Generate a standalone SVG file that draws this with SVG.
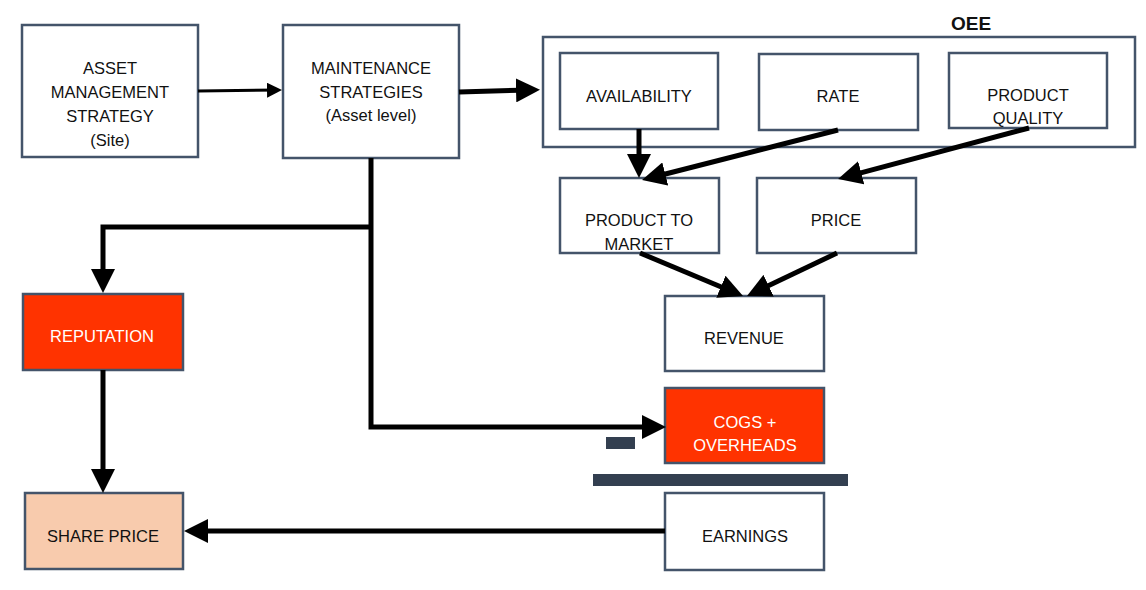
<svg xmlns="http://www.w3.org/2000/svg" width="1146" height="590" viewBox="0 0 1146 590">
<defs>
<style>
.box{fill:#FFFFFF;stroke:#44546A;stroke-width:2.5}
.red{fill:#FF3300;stroke:#44546A;stroke-width:2.5}
.peach{fill:#F8CBAD;stroke:#44546A;stroke-width:2.5}
.t{font-family:"Liberation Sans",Arial,sans-serif;font-size:16.5px;fill:#111111;text-anchor:middle}
.w{fill:#FFFFFF}
.b{font-weight:bold;font-size:19px}
.c{fill:none;stroke:#000000;stroke-width:5;stroke-linejoin:miter}
.thin{stroke-width:3}
.bar{fill:#333F50}
</style>
<marker id="ah" markerUnits="userSpaceOnUse" markerWidth="24" markerHeight="24" viewBox="0 0 24 24" refX="14" refY="12" orient="auto">
<path d="M0,0 L24,12 L0,24 z" fill="#000000"/>
</marker>
<marker id="ahs" markerUnits="userSpaceOnUse" markerWidth="15" markerHeight="15" viewBox="0 0 15 15" refX="11" refY="7.5" orient="auto">
<path d="M0,0 L15,7.5 L0,15 z" fill="#000000"/>
</marker>
</defs>
<rect width="1146" height="590" fill="#FFFFFF"/>

<g id="asset-management">
<rect class="box" x="22" y="25" width="176" height="132"/>
<text class="t" x="110" y="74">ASSET</text>
<text class="t" x="110" y="98">MANAGEMENT</text>
<text class="t" x="110" y="122">STRATEGY</text>
<text class="t" x="110" y="146">(Site)</text>
</g>

<g id="maintenance">
<rect class="box" x="283" y="25" width="176" height="133"/>
<text class="t" x="371" y="74">MAINTENANCE</text>
<text class="t" x="371" y="98">STRATEGIES</text>
<text class="t" x="371" y="121">(Asset level)</text>
</g>

<g id="oee">
<rect class="box" x="543" y="37" width="592" height="110"/>
<text class="t b" x="971" y="30">OEE</text>
</g>

<g id="availability">
<rect class="box" x="560" y="53" width="158" height="76"/>
<text class="t" x="639" y="102">AVAILABILITY</text>
</g>

<g id="rate">
<rect class="box" x="759" y="54" width="159" height="76"/>
<text class="t" x="838" y="102">RATE</text>
</g>

<g id="product-quality">
<rect class="box" x="949" y="53" width="158" height="75"/>
<text class="t" x="1028" y="101">PRODUCT</text>
<text class="t" x="1028" y="124">QUALITY</text>
</g>

<g id="product-to-market">
<rect class="box" x="560" y="178" width="159" height="75"/>
<text class="t" x="639" y="226">PRODUCT TO</text>
<text class="t" x="639" y="250">MARKET</text>
</g>

<g id="price">
<rect class="box" x="757" y="178" width="159" height="75"/>
<text class="t" x="836" y="226">PRICE</text>
</g>

<g id="revenue">
<rect class="box" x="665" y="296" width="159" height="75"/>
<text class="t" x="744" y="344">REVENUE</text>
</g>

<g id="cogs">
<rect class="red" x="665" y="388" width="159" height="75"/>
<text class="t w" x="745" y="428">COGS +</text>
<text class="t w" x="745" y="451">OVERHEADS</text>
</g>

<g id="minus">
<rect class="bar" x="606" y="437" width="29" height="12"/>
</g>

<g id="subtotal-bar">
<rect class="bar" x="593" y="474" width="255" height="12"/>
</g>

<g id="earnings">
<rect class="box" x="665" y="493" width="159" height="77"/>
<text class="t" x="745" y="542">EARNINGS</text>
</g>

<g id="reputation">
<rect class="red" x="23" y="294" width="160" height="76"/>
<text class="t w" x="102" y="342">REPUTATION</text>
</g>

<g id="share-price">
<rect class="peach" x="25" y="493" width="158" height="76"/>
<text class="t" x="103" y="542">SHARE PRICE</text>
</g>

<g id="connectors">
<path class="c thin" d="M198,91 L278,90" marker-end="url(#ahs)"/>
<path class="c" d="M459,92 L530,90" marker-end="url(#ah)"/>
<path class="c" d="M639,129 L639,168" marker-end="url(#ah)"/>
<path class="c" d="M838,130 L651.7,177.5" marker-end="url(#ah)"/>
<path class="c" d="M1029,128 L847.7,176.4" marker-end="url(#ah)"/>
<path class="c" d="M640,253 L733.8,292.2" marker-end="url(#ah)"/>
<path class="c" d="M837,253 L756,291.7" marker-end="url(#ah)"/>
<path class="c" d="M371,158 L371,427 L656,427" marker-end="url(#ah)"/>
<path class="c" d="M371,227 L103,227 L103,283" marker-end="url(#ah)"/>
<path class="c" d="M103,370 L103,483" marker-end="url(#ah)"/>
<path class="c" d="M665,531 L194,531" marker-end="url(#ah)"/>
</g>
</svg>
